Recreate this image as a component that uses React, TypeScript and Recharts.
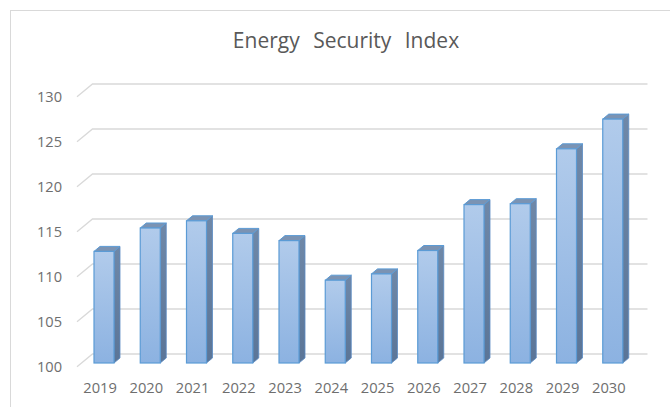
import React from "react";
import { BarChart, Bar, XAxis, YAxis, CartesianGrid } from "recharts";

const years = ["2019", "2020", "2021", "2022", "2023", "2024", "2025", "2026", "2027", "2028", "2029", "2030"];
const index = [112.4, 115.0, 115.8, 114.4, 113.6, 109.2, 109.9, 112.5, 117.6, 117.7, 123.8, 127.1];
const yTicks = [100, 105, 110, 115, 120, 125, 130];

const data = years.map((year, i) => ({ year, value: index[i] }));

const FONT = "'Open Sans', 'Liberation Sans', sans-serif";
const TEXT = "#6e6e6e";
const GRID = "#d9d9d9";

// 3D look: the bars sit a little behind the front plane, the walls further back
const BAR_SHIFT_X = 4;
const BAR_SHIFT_Y = 3.7;
const DEPTH_X = 6;
const DEPTH_Y = 5;
const WALL_X = 15.5;
const WALL_Y = 12.7;

function Column3D(props: any) {
  const { x, y, width, height, index: i } = props;
  if (height == null || height <= 0) return null;
  const fx = x + BAR_SHIFT_X;
  const fy = y - BAR_SHIFT_Y;
  const r = fx + width;
  const b = fy + height;
  const front = `front-${i}`;
  const side = `side-${i}`;
  return (
    <g>
      <defs>
        <linearGradient id={front} x1="0" y1="0" x2="0" y2="1">
          <stop offset="0%" stopColor="#b1cbeb" />
          <stop offset="100%" stopColor="#8cb2e1" />
        </linearGradient>
        <linearGradient id={side} x1="0" y1="0" x2="0" y2="1">
          <stop offset="0%" stopColor="#6f88a8" />
          <stop offset="100%" stopColor="#5b7597" />
        </linearGradient>
      </defs>
      <polygon
        points={`${r},${fy} ${r + DEPTH_X},${fy - DEPTH_Y} ${r + DEPTH_X},${b - DEPTH_Y} ${r},${b}`}
        fill={`url(#${side})`}
        stroke="#5b8cc4"
        strokeWidth={0.8}
      />
      <polygon
        points={`${fx},${fy} ${fx + DEPTH_X},${fy - DEPTH_Y} ${r + DEPTH_X},${fy - DEPTH_Y} ${r},${fy}`}
        fill="#7b93b3"
        stroke="#5b9bd5"
        strokeWidth={1}
      />
      <rect x={fx} y={fy} width={width} height={height} fill={`url(#${front})`} stroke="#5b9bd5" strokeWidth={1.2} />
    </g>
  );
}

function WallLine(props: any) {
  const { x1, y1, x2 } = props;
  return (
    <path
      d={`M${x1},${y1} L${x1 + WALL_X},${y1 - WALL_Y} L${x2 + WALL_X},${y1 - WALL_Y}`}
      fill="none"
      stroke={GRID}
      strokeWidth={1.3}
    />
  );
}

export default function App() {
  return (
    <div style={{ position: "absolute", left: 0, top: 0, width: 670, height: 407, overflow: "hidden", background: "#fff" }}>
      <div
        style={{
          position: "absolute",
          left: 10,
          top: 10,
          width: 700,
          height: 420,
          borderLeft: "1.5px solid #d9d9d9",
          borderTop: "1.5px solid #d9d9d9",
        }}
      />
      <div
        style={{
          position: "absolute",
          left: 0,
          width: 692,
          top: 29.5,
          textAlign: "center",
          fontFamily: FONT,
          fontSize: 21,
          lineHeight: "21px",
          color: "#595959",
          wordSpacing: 8,
        }}
      >
        Energy Security Index
      </div>
      <div style={{ position: "absolute", left: 0, top: 0 }}>
        <BarChart width={670} height={407} data={data} margin={{ top: 96.7, right: 38, bottom: 10.3, left: 0 }}>
          <CartesianGrid vertical={false} horizontal={WallLine} />
          <XAxis
            dataKey="year"
            axisLine={false}
            tickLine={false}
            tickSize={0}
            tickMargin={16}
            interval={0}
            tick={{ fill: TEXT, fontSize: 14.7, fontFamily: FONT }}
          />
          <YAxis
            width={77}
            domain={[100, 130]}
            ticks={yTicks}
            axisLine={false}
            tickLine={false}
            tickSize={0}
            tickMargin={15}
            tick={{ fill: TEXT, fontSize: 14.6, fontFamily: FONT }}
          />
          <Bar dataKey="value" barSize={20} shape={<Column3D />} isAnimationActive={false} />
        </BarChart>
      </div>
    </div>
  );
}
